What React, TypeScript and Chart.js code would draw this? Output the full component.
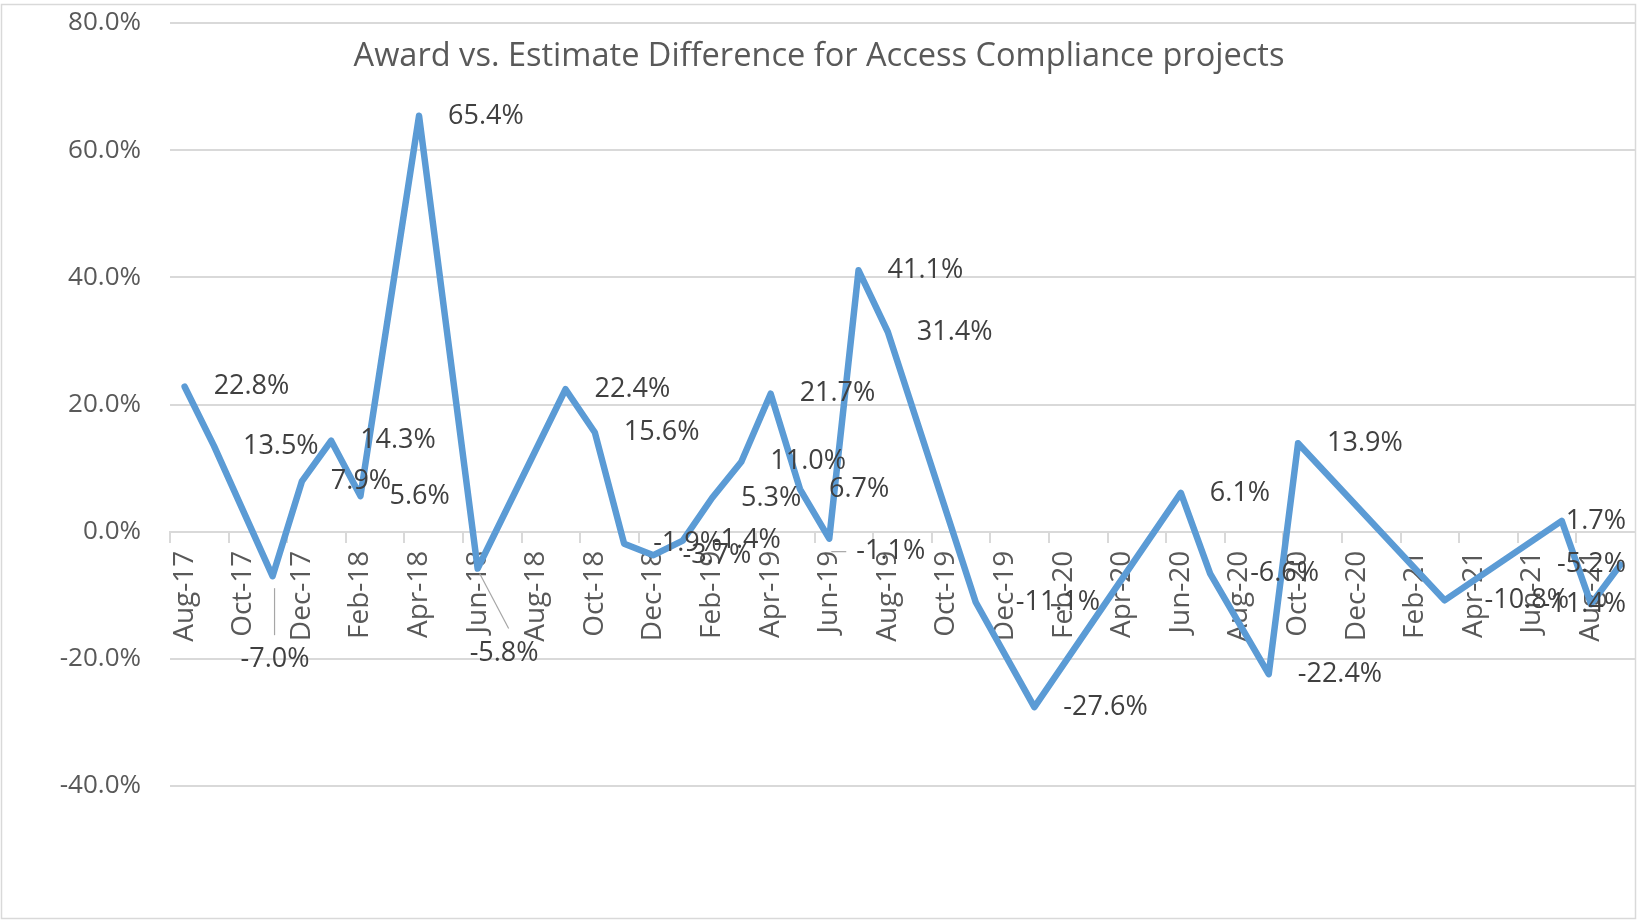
import React, { useEffect, useRef } from 'react';
import { Chart, registerables } from 'chart.js';

Chart.register(...registerables);

const TITLE = 'Award vs. Estimate Difference for Access Compliance projects';

// every month on the date axis (labels shown every second month)
const monthLabels = [
  'Aug-17', 'Sep-17', 'Oct-17', 'Nov-17', 'Dec-17',
  'Jan-18', 'Feb-18', 'Mar-18', 'Apr-18', 'May-18', 'Jun-18', 'Jul-18', 'Aug-18', 'Sep-18', 'Oct-18', 'Nov-18', 'Dec-18',
  'Jan-19', 'Feb-19', 'Mar-19', 'Apr-19', 'May-19', 'Jun-19', 'Jul-19', 'Aug-19', 'Sep-19', 'Oct-19', 'Nov-19', 'Dec-19',
  'Jan-20', 'Feb-20', 'Mar-20', 'Apr-20', 'May-20', 'Jun-20', 'Jul-20', 'Aug-20', 'Sep-20', 'Oct-20', 'Nov-20', 'Dec-20',
  'Jan-21', 'Feb-21', 'Mar-21', 'Apr-21', 'May-21', 'Jun-21', 'Jul-21', 'Aug-21', 'Sep-21',
];

// months that carry a project value
const pointMonths = [
  'Aug-17', 'Sep-17', 'Nov-17', 'Dec-17', 'Jan-18', 'Feb-18', 'Apr-18', 'Jun-18', 'Sep-18', 'Oct-18',
  'Nov-18', 'Dec-18', 'Jan-19', 'Feb-19', 'Mar-19', 'Apr-19', 'May-19', 'Jun-19', 'Jul-19', 'Aug-19',
  'Nov-19', 'Jan-20', 'Jun-20', 'Jul-20', 'Sep-20', 'Oct-20', 'Mar-21', 'Jul-21', 'Aug-21', 'Sep-21',
];

// award vs. estimate difference, percent
const diffValues = [
  22.8, 13.5, -7.0, 7.9, 14.3, 5.6, 65.4, -5.8, 22.4, 15.6,
  -1.9, -3.7, -1.4, 5.3, 11.0, 21.7, 6.7, -1.1, 41.1, 31.4,
  -11.1, -27.6, 6.1, -6.6, -22.4, 13.9, -10.8, 1.7, -11.4, -5.2,
];

const yMin = -40;
const yMax = 80;
const yStep = 20;

const FONT = '"Open Sans", "Noto Sans", sans-serif';
const TEXT_GREY = '#595959';
const LABEL_GREY = '#404040';
const GRID_GREY = '#d9d9d9';
const LINE_BLUE = '#5b9bd5';

// data-label placement (style only): offset of label's left edge / middle from its point
type Placement = { dx: number; dy: number; leader?: [number, number][] };
const defaultPlacement: Placement = { dx: 29, dy: 0 };
const labelPlacement: Record<string, Placement> = {
  'Nov-17': { dx: -32, dy: 83, leader: [[2, 12], [2, 59]] },
  'Jun-18': { dx: -8, dy: 85, leader: [[2, 5], [31, 60]] },
  'Jun-19': { dx: 27, dy: 13, leader: [[2, 13], [17, 13]] },
  'Nov-19': { dx: 40, dy: 0 },
  'Jul-20': { dx: 40, dy: 0 },
  'Mar-21': { dx: 40, dy: 0 },
};

const framePlugin = {
  id: 'frame',
  beforeDraw(chart: any) {
    const { ctx, width, height } = chart;
    ctx.save();
    ctx.fillStyle = '#ffffff';
    ctx.fillRect(0, 0, width, height);
    ctx.strokeStyle = GRID_GREY;
    ctx.lineWidth = 1.5;
    ctx.strokeRect(1.5, 4.5, width - 4, height - 8);
    ctx.restore();
  },
};

const titlePlugin = {
  id: 'overlayTitle',
  afterDraw(chart: any) {
    const { ctx, width } = chart;
    ctx.save();
    ctx.font = `100px ${FONT}`;
    const w100 = ctx.measureText(TITLE).width;
    const size = (100 * 931) / w100;
    ctx.font = `${size.toFixed(2)}px ${FONT}`;
    ctx.fillStyle = TEXT_GREY;
    ctx.textAlign = 'center';
    ctx.textBaseline = 'middle';
    ctx.fillText(TITLE, width / 2, 57);
    ctx.restore();
  },
};

const valueLabelPlugin = {
  id: 'valueLabels',
  afterDatasetsDraw(chart: any) {
    const { ctx, chartArea } = chart;
    const meta = chart.getDatasetMeta(0);
    ctx.save();
    ctx.font = `27px ${FONT}`;
    ctx.textBaseline = 'middle';
    ctx.textAlign = 'left';
    meta.data.forEach((el: any, i: number) => {
      const text = diffValues[i].toFixed(1) + '%';
      const p = labelPlacement[pointMonths[i]] || defaultPlacement;
      const w = ctx.measureText(text).width;
      let x = el.x + p.dx;
      const limit = chartArea.right - 9;
      if (x + w > limit) x = limit - w;
      const y = el.y + p.dy;
      if (p.leader) {
        ctx.strokeStyle = '#a6a6a6';
        ctx.lineWidth = 1.2;
        ctx.beginPath();
        p.leader.forEach(([lx, ly], k) => {
          if (k === 0) ctx.moveTo(el.x + lx, el.y + ly);
          else ctx.lineTo(el.x + lx, el.y + ly);
        });
        ctx.stroke();
      }
      ctx.fillStyle = LABEL_GREY;
      ctx.fillText(text, x, y);
    });
    ctx.restore();
  },
};

export default function App() {
  const canvasRef = useRef<HTMLCanvasElement | null>(null);

  useEffect(() => {
    document.body.style.margin = '0';
    const canvas = canvasRef.current;
    if (!canvas) return;

    const chart = new Chart(canvas, {
      type: 'line',
      data: {
        labels: monthLabels,
        datasets: [
          {
            data: pointMonths.map((m, i) => ({ x: m, y: diffValues[i] })),
            borderColor: LINE_BLUE,
            backgroundColor: LINE_BLUE,
            borderWidth: 6.5,
            pointRadius: 0,
            pointHoverRadius: 0,
            tension: 0,
            fill: false,
            borderJoinStyle: 'round',
            borderCapStyle: 'round',
          } as any,
        ],
      },
      options: {
        responsive: false,
        animation: false,
        devicePixelRatio: 1,
        events: [],
        layout: { padding: { left: 0, top: 23, right: 3, bottom: 136 } },
        plugins: {
          legend: { display: false },
          tooltip: { enabled: false },
          title: { display: false },
        },
        scales: {
          x: {
            type: 'category',
            offset: true,
            position: { y: 0 } as any,
            grid: {
              offset: true,
              drawOnChartArea: false,
              drawTicks: true,
              tickLength: 10,
              lineWidth: 2,
              color: (c: any) => (typeof c.index === 'number' && c.index % 2 === 0 ? GRID_GREY : 'rgba(0,0,0,0)'),
            },
            border: { display: true, color: GRID_GREY, width: 2 },
            ticks: {
              autoSkip: false,
              minRotation: 90,
              maxRotation: 90,
              padding: 9,
              color: TEXT_GREY,
              font: { family: FONT, size: 28 },
              callback: (_v: any, index: number) => (index % 2 === 0 ? monthLabels[index] : ''),
            },
            afterFit: (s: any) => {
              s.height = 100;
              s.paddingLeft = 0;
              s.paddingRight = 0;
              s.paddingTop = 0;
              s.paddingBottom = 0;
            },
          },
          y: {
            min: yMin,
            max: yMax,
            grid: { color: GRID_GREY, lineWidth: 2, drawTicks: false },
            border: { display: false },
            ticks: {
              stepSize: yStep,
              padding: 29,
              color: TEXT_GREY,
              font: { family: FONT, size: 26 },
              callback: (v: any) => Number(v).toFixed(1) + '%',
            },
            afterFit: (s: any) => {
              s.width = 170;
              s.paddingTop = 0;
              s.paddingBottom = 0;
            },
          },
        },
      } as any,
      plugins: [framePlugin, titlePlugin, valueLabelPlugin],
    });

    return () => chart.destroy();
  }, []);

  return <canvas ref={canvasRef} width={1638} height={922} style={{ display: 'block' }} />;
}
